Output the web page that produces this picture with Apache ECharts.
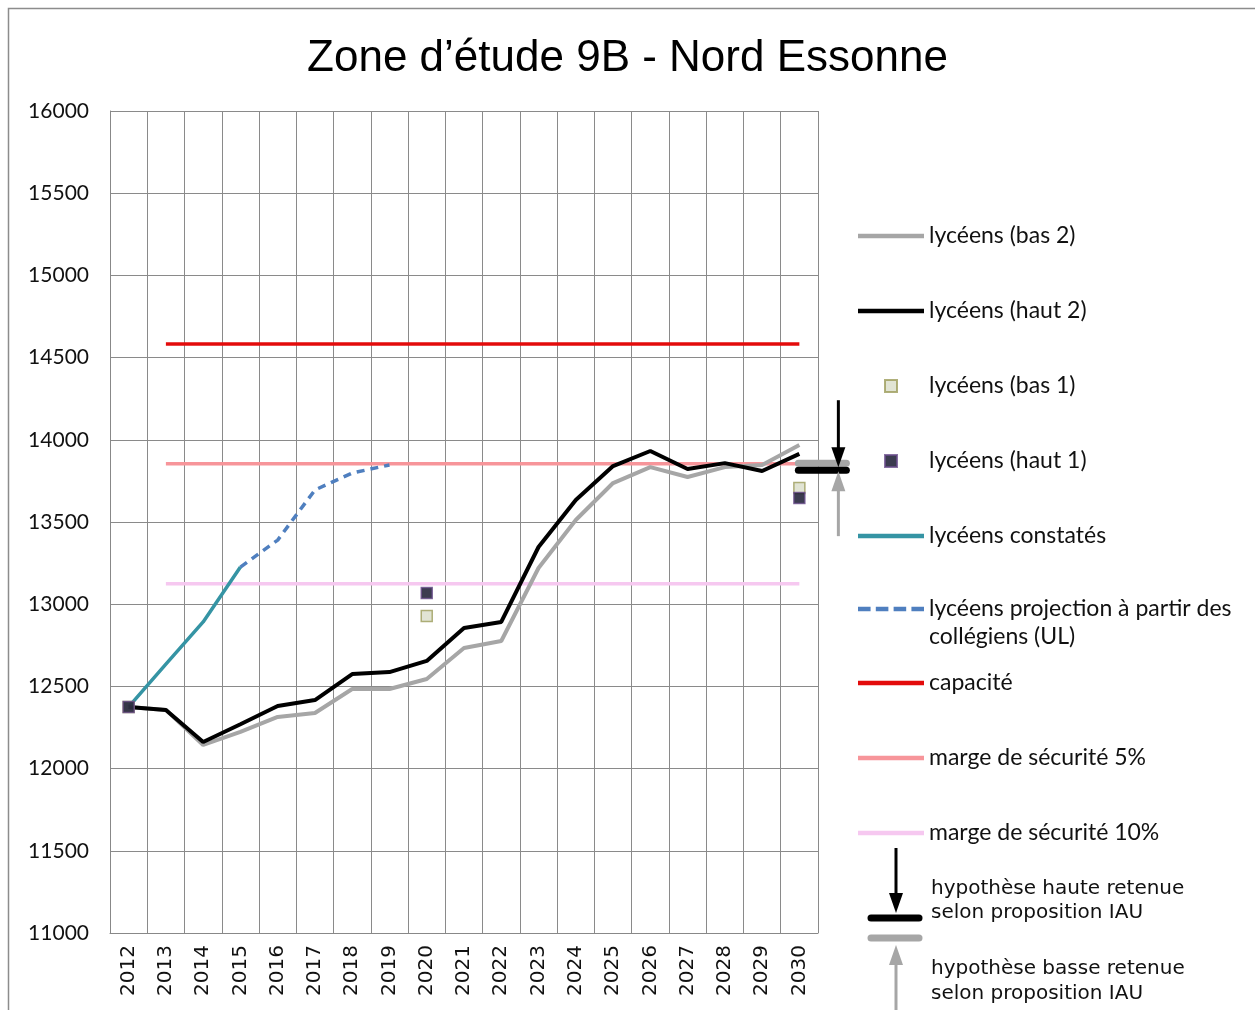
<!DOCTYPE html>
<html>
<head>
<meta charset="utf-8">
<script src="https://cdn.jsdelivr.net/npm/echarts@6/dist/echarts.min.js"></script>
<style>
    html, body { margin: 0; padding: 0; background: #fff; }
    #chart { width: 1255px; height: 1010px; }
</style>
</head>
<body>
<div id="chart"></div>
<script>
    // données
    const years = ['2012', '2013', '2014', '2015', '2016', '2017', '2018', '2019', '2020', '2021',
        '2022', '2023', '2024', '2025', '2026', '2027', '2028', '2029', '2030']
    const bas2 = [12375, 12357, 12144, 12223, 12314, 12338, 12484, 12484, 12545, 12734,
        12776, 13220, 13512, 13737, 13834, 13774, 13834, 13847, 13968]
    const haut2 = [12375, 12357, 12162, 12270, 12381, 12417, 12575, 12587, 12655, 12855,
        12892, 13348, 13634, 13840, 13932, 13822, 13858, 13810, 13914]
    const bas1 = [12375, null, null, null, null, null, null, null, 12928, null,
        null, null, null, null, null, null, null, null, 13707]
    const haut1 = [12375, null, null, null, null, null, null, null, 13068, null,
        null, null, null, null, null, null, null, null, 13646]
    const constates = [12375, 12636, 12892, 13226, null, null, null, null, null, null,
        null, null, null, null, null, null, null, null, null]
    const projection = [null, null, null, 13226, 13390, 13695, 13798, 13847, null, null,
        null, null, null, null, null, null, null, null, null]
    const capacite = 14583
    const marge5 = 13854
    const marge10 = 13125
    const hypHaute = 13815
    const hypBasse = 13858
    const yTicks = { min: 11000, max: 16000, interval: 500 }

    const labelFont = 'Lato'
    const lineIcon = 'path://M0,0h63v4.5h-63z'
    const dashIcon = 'path://M0,0h12v4.5h-12z M17,0h12v4.5h-12z M34,0h12v4.5h-12z M51,0h12v4.5h-12z'
    const squareIcon = 'path://M0,0h10v10h-10z'
    const legendText = { fontFamily: labelFont, fontSize: 23, lineHeight: 28, color: '#111' }
    const chart = echarts.init(document.getElementById('chart'))

    // ligne horizontale de 2013 à 2030
    function flatLine (name, value, color) {
        return {
            name: name,
            type: 'line',
            symbol: 'none',
            z: 1,
            lineStyle: { color: color, width: 3.5 },
            itemStyle: { color: color },
            data: [[years[1], value], [years[years.length - 1], value]]
        }
    }

    // légende verticale à droite
    function legendBlock (top, items, extra) {
        return Object.assign({
            orient: 'vertical',
            left: 858,
            top: top,
            padding: 0,
            itemWidth: 66,
            itemHeight: 12,
            itemGap: 47,
            textStyle: legendText,
            data: items
        }, extra || {})
    }

    chart.setOption({
        animation: false,
        title: {
            text: 'Zone d’étude 9B - Nord Essonne',
            left: 'center',
            top: 32,
            textStyle: { fontFamily: 'Liberation Sans', fontSize: 44, fontWeight: 'normal', color: '#000' }
        },
        grid: { left: 110, top: 111, right: 437, bottom: 77 },
        legend: [
            legendBlock(222, [
                { name: 'lycéens (bas 2)', icon: lineIcon },
                { name: 'lycéens (haut 2)', icon: lineIcon },
                { name: 'lycéens (bas 1)', icon: squareIcon },
                { name: 'lycéens (haut 1)', icon: squareIcon },
                { name: 'lycéens constatés', icon: lineIcon }
            ]),
            legendBlock(567, [
                { name: 'lycéens projection à partir des\ncollégiens (UL)', icon: dashIcon }
            ], { formatter: name => '\n' + name }),
            legendBlock(669, [
                { name: 'capacité', icon: lineIcon },
                { name: 'marge de sécurité 5%', icon: lineIcon },
                { name: 'marge de sécurité 10%', icon: lineIcon }
            ])
        ],
        xAxis: {
            type: 'category',
            data: years,
            boundaryGap: true,
            axisLine: { lineStyle: { color: '#888' } },
            axisTick: { show: false },
            splitLine: { show: true, interval: 0, lineStyle: { color: '#8a8a8a' } },
            axisLabel: {
                interval: 0,
                rotate: 90,
                margin: 12,
                fontFamily: 'DejaVu Sans',
                fontSize: 20,
                color: '#111'
            }
        },
        yAxis: {
            type: 'value',
            min: yTicks.min,
            max: yTicks.max,
            interval: yTicks.interval,
            axisLine: { show: true, lineStyle: { color: '#888' } },
            splitLine: { lineStyle: { color: '#8a8a8a' } },
            axisLabel: {
                margin: 21,
                fontFamily: labelFont,
                fontSize: 21,
                color: '#111',
                formatter: v => String(v)
            }
        },
        series: [
            flatLine('capacité', capacite, '#E30B0B'),
            flatLine('marge de sécurité 5%', marge5, '#F7959A'),
            flatLine('marge de sécurité 10%', marge10, '#F6C8F0'),
            {
                name: 'lycéens constatés',
                type: 'line',
                symbol: 'none',
                z: 2,
                lineStyle: { color: '#3594A4', width: 3.5 },
                itemStyle: { color: '#3594A4' },
                data: constates
            },
            {
                name: 'lycéens projection à partir des\ncollégiens (UL)',
                type: 'line',
                symbol: 'none',
                z: 2,
                lineStyle: { color: '#4F7FBF', width: 3.5, type: [8, 6] },
                itemStyle: { color: '#4F7FBF' },
                data: projection
            },
            {
                name: 'lycéens (bas 2)',
                type: 'line',
                symbol: 'none',
                z: 3,
                lineStyle: { color: '#A6A6A6', width: 4 },
                itemStyle: { color: '#A6A6A6' },
                data: bas2
            },
            {
                name: 'lycéens (haut 2)',
                type: 'line',
                symbol: 'none',
                z: 4,
                lineStyle: { color: '#000', width: 4 },
                itemStyle: { color: '#000' },
                data: haut2
            },
            {
                name: 'lycéens (bas 1)',
                type: 'scatter',
                symbol: 'rect',
                symbolSize: 11,
                z: 5,
                itemStyle: { color: '#D9DDC9', borderColor: '#9C9C5A', borderWidth: 1.5 },
                data: bas1
            },
            {
                name: 'lycéens (haut 1)',
                type: 'scatter',
                symbol: 'rect',
                symbolSize: 11,
                z: 6,
                itemStyle: { color: '#0B0B24', borderColor: '#6A4E8C', borderWidth: 1.5 },
                data: haut1
            }
        ]
    })

    // flèches des hypothèses retenues, placées avec l'échelle du graphique
    function drawHypotheses () {
        const xc = chart.convertToPixel({ xAxisIndex: 0 }, years[years.length - 1])
        const yH = chart.convertToPixel({ yAxisIndex: 0 }, hypHaute)
        const yB = chart.convertToPixel({ yAxisIndex: 0 }, hypBasse)
        const ax = xc + 39
        const black = '#000'
        const gray = '#A6A6A6'
        const txt = { fontFamily: 'DejaVu Sans', fontSize: 20, fill: '#111' }

        const arrowDown = (x, y1, y2, color) => [
            { type: 'line', shape: { x1: x, y1: y1, x2: x, y2: y2 - 14 }, style: { stroke: color, lineWidth: 3 } },
            { type: 'polygon', shape: { points: [[x - 7, y2 - 20], [x + 7, y2 - 20], [x, y2]] }, style: { fill: color } }
        ]
        const arrowUp = (x, y1, y2, color) => [
            { type: 'line', shape: { x1: x, y1: y1, x2: x, y2: y2 + 14 }, style: { stroke: color, lineWidth: 3 } },
            { type: 'polygon', shape: { points: [[x - 7, y2 + 20], [x + 7, y2 + 20], [x, y2]] }, style: { fill: color } }
        ]
        const bar = (x1, x2, y, color) => ({
            type: 'line', shape: { x1: x1, y1: y, x2: x2, y2: y },
            style: { stroke: color, lineWidth: 7, lineCap: 'round' }
        })

        const els = [
            { type: 'rect', shape: { x: 8.5, y: 8.5, width: 1300, height: 1100 }, style: { fill: null, stroke: '#8c8c8c', lineWidth: 1.5 }, silent: true },
            bar(xc - 1, xc + 47, yB, gray),
            bar(xc - 1, xc + 47, yH, black),
            ...arrowDown(ax, yH - 70, yH - 3, black),
            ...arrowUp(ax, yB + 73, yB + 8, gray),
            // légende des hypothèses
            ...arrowDown(896, 848, 913, black),
            bar(871, 919, 918, black),
            bar(871, 919, 938, gray),
            ...arrowUp(896, 1012, 945, gray),
            { type: 'text', left: 931, top: 879, style: Object.assign({ text: 'hypothèse haute retenue' }, txt) },
            { type: 'text', left: 931, top: 903, style: Object.assign({ text: 'selon proposition IAU' }, txt) },
            { type: 'text', left: 931, top: 959, style: Object.assign({ text: 'hypothèse basse retenue' }, txt) },
            { type: 'text', left: 931, top: 984, style: Object.assign({ text: 'selon proposition IAU' }, txt) }
        ]
        chart.setOption({ graphic: els.map(e => Object.assign({ z: 100 }, e)) })
    }
    drawHypotheses()
</script>
</body>
</html>
